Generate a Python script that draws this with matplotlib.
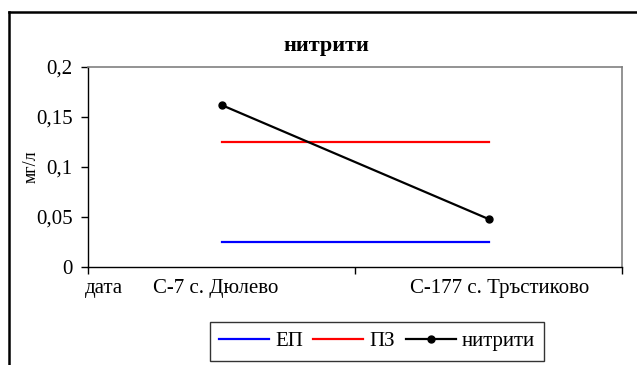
import matplotlib
matplotlib.use("Agg")
import matplotlib.pyplot as plt
from matplotlib.lines import Line2D
from matplotlib.ticker import FuncFormatter

plt.rcParams['font.family'] = ['Liberation Serif', 'DejaVu Serif']

stations = ["С-7 с. Дюлево", "С-177 с. Тръстиково"]
ep = [0.025, 0.025]          # ЕП
pz = [0.125, 0.125]          # ПЗ
nitriti = [0.162, 0.048]     # нитрити
yticks = [0, 0.05, 0.1, 0.15, 0.2]

fig = plt.figure(figsize=(6.37, 3.65), dpi=100)
ax = fig.add_axes([88 / 637, 1 - 267 / 365, 534 / 637, 200 / 365])

x = list(range(len(stations)))
ax.plot(x, ep, color='#0000ff', lw=1.6, label='ЕП')
ax.plot(x, pz, color='#ff0000', lw=1.6, label='ПЗ')
ax.plot(x, nitriti, color='black', lw=1.6, marker='o', ms=5, label='нитрити')

ax.set_xlim(-0.5, 1.5)
ax.set_ylim(0, 0.2)
ax.set_yticks(yticks)
ax.yaxis.set_major_formatter(FuncFormatter(lambda v, p: f"{v:g}".replace('.', ',')))
ax.set_xticks([-0.5, 0.5, 1.5])
ax.set_xticklabels([])
ax.tick_params(axis='both', direction='out', length=5, width=1, labelsize=15, pad=6)

for side in ['top', 'right']:
    ax.spines[side].set_color('#808080')
    ax.spines[side].set_linewidth(1.2)
for side in ['left', 'bottom']:
    ax.spines[side].set_linewidth(1)

# category labels under the axis
lab_y = -0.11
ax.text(-0.44, lab_y, "дата", transform=ax.get_xaxis_transform(),
        ha='center', va='center', fontsize=15)
ax.text(-0.02, lab_y, stations[0], transform=ax.get_xaxis_transform(),
        ha='center', va='center', fontsize=15)
ax.text(1.04, lab_y, stations[1], transform=ax.get_xaxis_transform(),
        ha='center', va='center', fontsize=15)

ax.set_ylabel("мг/л", fontsize=13, va='center')
ax.yaxis.set_label_coords(-0.107, 0.5)
fig.text(326 / 637, 1 - 46 / 365, "нитрити", ha='center', va='center',
         fontsize=16, fontweight='bold')

leg = ax.legend(loc='center', bbox_to_anchor=(377 / 637, 1 - 341.5 / 365),
                bbox_transform=fig.transFigure, ncol=3, frameon=True,
                fancybox=False, edgecolor='black', fontsize=15,
                handlelength=2.4, handletextpad=0.3, columnspacing=0.5,
                borderpad=0.45)
leg.get_frame().set_linewidth(1)

# outer chart border (cut off at right and bottom)
fig.add_artist(Line2D([9 / 637, 9 / 637], [0, 1 - 12 / 365], color='black', lw=1.8))
fig.add_artist(Line2D([9 / 637, 1], [1 - 12 / 365, 1 - 12 / 365], color='black', lw=1.8))

fig.savefig("out.png", dpi=100)
